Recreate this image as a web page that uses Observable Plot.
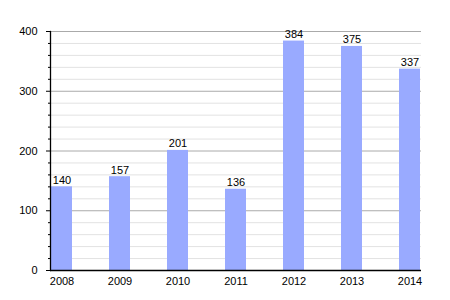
<!DOCTYPE html>
<html>
<head>
<meta charset="utf-8">
<script src="https://cdn.jsdelivr.net/npm/d3@7"></script>
<script src="https://cdn.jsdelivr.net/npm/@observablehq/plot@0.6"></script>
<style>
  html, body { margin: 0; padding: 0; background: #fff; }
  #chart svg { display: block; }
</style>
</head>
<body>
<div id="chart"></div>
<script>
const years = ["2008", "2009", "2010", "2011", "2012", "2013", "2014"];
const counts = [140, 157, 201, 136, 384, 375, 337];
const majorTicks = [0, 100, 200, 300, 400];
const minorTicks = [20, 40, 60, 80, 120, 140, 160, 180, 220, 240, 260, 280, 320, 340, 360, 380];

const data = years.map((y, i) => ({year: y, value: counts[i]}));

const chart = Plot.plot({
  width: 450,
  height: 300,
  marginLeft: 50,
  marginRight: 29,
  marginTop: 31,
  marginBottom: 30,
  style: {fontFamily: "Liberation Sans, Arial, sans-serif", fontSize: "11px", color: "#000", background: "#fff"},
  x: {domain: years, paddingInner: 0.64, paddingOuter: 0, label: null},
  y: {domain: [0, 400], label: null},
  marks: [
    Plot.ruleY(minorTicks, {stroke: "#e2e2e2", strokeWidth: 1}),
    Plot.ruleY(majorTicks.filter(d => d > 0), {stroke: "#aaaaaa", strokeWidth: 1}),
    Plot.barY(data, {x: "year", y: "value", fill: "#99aaff"}),
    Plot.text(data, {x: "year", y: "value", text: d => String(d.value), dy: -3, lineAnchor: "bottom", fill: "#000", fontSize: 11}),
    Plot.axisY(minorTicks, {tickSize: 2, text: null, stroke: "#000"}),
    Plot.axisY(majorTicks, {tickSize: 4, tickPadding: 9, stroke: "#000", fill: "#000", fontSize: 11}),
    Plot.axisX({tickSize: 0, tickPadding: 7, fill: "#000", fontSize: 11}),
    Plot.frame({anchor: "left", stroke: "#000", strokeWidth: 1.3}),
    Plot.ruleY([0], {stroke: "#000", strokeWidth: 1.3})
  ]
});
document.getElementById("chart").appendChild(chart);
</script>
</body>
</html>
